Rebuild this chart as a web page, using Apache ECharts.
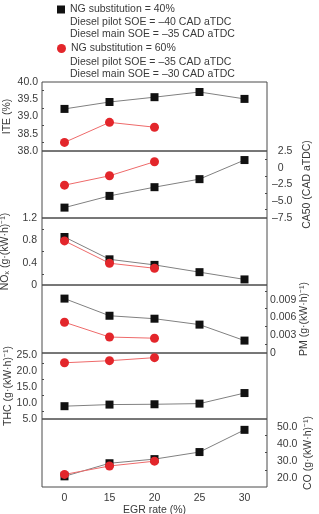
<!DOCTYPE html>
<html>
<head>
<meta charset="utf-8">
<style>
  html, body { margin: 0; padding: 0; background: #fff; }
  #main { width: 319px; height: 514px; }
</style>
<script src="https://cdn.jsdelivr.net/npm/echarts@6.0.0/dist/echarts.min.js"></script>
</head>
<body>
<div id="main"></div>
<script>
const egrRates = ['0', '15', '20', '25', '30'];

const iteNg40 = [39.22, 39.42, 39.56, 39.71, 39.51];
const iteNg60 = [38.25, 38.83, 38.69];
const ca50Ng40 = [-5.95, -4.2, -2.9, -1.7, 1.15];
const ca50Ng60 = [-2.6, -1.2, 0.9];
const noxNg40 = [0.86, 0.46, 0.36, 0.23, 0.10];
const noxNg60 = [0.79, 0.39, 0.30];
const pmNg40 = [0.0092, 0.0063, 0.0058, 0.0048, 0.0021];
const pmNg60 = [0.0052, 0.0027, 0.0025];
const thcNg40 = [9.0, 9.5, 9.6, 9.8, 13.1];
const thcNg60 = [22.55, 23.2, 24.15];
const coNg40 = [21.2, 28.8, 31.2, 35.3, 48.2];
const coNg60 = [22.3, 27.2, 30.0];

const ng40Name = 'NG substitution = 40%';
const ng60Name = 'NG substitution = 60%';
const ng40Lines = ['Diesel pilot SOE = \u201340 CAD aTDC', 'Diesel main SOE = \u201335 CAD aTDC'];
const ng60Lines = ['Diesel pilot SOE = \u201335 CAD aTDC', 'Diesel main SOE = \u201330 CAD aTDC'];

const FONT = 'Liberation Sans, Arial, sans-serif';
const TXT = '#3a3a3a';
const FRAME = '#4a4a4a';

// panel layout, top to bottom
const panels = [
  { name: 'ITE (%)', side: 'left', min: 38, max: 40, interval: 0.5, dec: 1, a: iteNg40, b: iteNg60, top: 82, height: 69, gap: 29.5, margin: 4 },
  { name: 'CA50 (CAD aTDC)', side: 'right', min: -7.5, max: 2.5, interval: 2.5, dec: 1, pad: true, a: ca50Ng40, b: ca50Ng60, top: 151, height: 67, gap: 35, margin: 5 },
  { name: 'NO\u2093 (g\u00b7(kW\u00b7h)\u207b\u00b9)', side: 'left', min: 0, max: 1.2, interval: 0.4, dec: 1, a: noxNg40, b: noxNg60, top: 218, height: 67, gap: 31, margin: 5 },
  { name: 'PM (g\u00b7(kW\u00b7h)\u207b\u00b9)', side: 'right', min: 0, max: 0.0115, interval: 0.003, dec: 3, hideMax: true, a: pmNg40, b: pmNg60, top: 285, height: 68, gap: 32, margin: 3 },
  { name: 'THC (g\u00b7(kW\u00b7h)\u207b\u00b9)', side: 'left', min: 5, max: 25.6, interval: 5, dec: 1, hideMax: true, a: thcNg40, b: thcNg60, top: 353, height: 66, gap: 28.5, margin: 5 },
  { name: 'CO (g\u00b7(kW\u00b7h)\u207b\u00b9)', side: 'right', min: 15, max: 54.5, splitNumber: 4, dec: 1, hideMax: true, hideMin: true, a: coNg40, b: coNg60, top: 419, height: 68, gap: 36, margin: 10 }
];

function fmt(dec, pad) {
  return function (v) {
    if (Math.abs(v) < 1e-9) return (pad ? '\u2007' : '') + '0';
    const s = Math.abs(v).toFixed(dec);
    return v < 0 ? '\u2013' + s : (pad ? '\u2007' : '') + s;
  };
}

const grids = [];
const xAxes = [];
const yAxes = [];
const series = [];

panels.forEach(function (p, i) {
  grids.push({
    left: 42, width: 225, top: p.top, height: p.height,
    outerBoundsMode: 'none', containLabel: false,
    show: true, borderColor: FRAME, borderWidth: 1, backgroundColor: 'transparent'
  });
  const last = i === panels.length - 1;
  xAxes.push({
    type: 'category', gridIndex: i, data: egrRates, boundaryGap: true, position: 'bottom',
    axisLine: { show: false },
    axisTick: { inside: true, alignWithLabel: true, length: 4, interval: 0, lineStyle: { color: FRAME } },
    axisLabel: { show: last, margin: 6, color: TXT, fontFamily: FONT, fontSize: 10.5 },
    name: last ? 'EGR rate (%)' : '',
    nameLocation: 'middle', nameGap: 18, nameMoveOverlap: false,
    nameTextStyle: { color: TXT, fontFamily: FONT, fontSize: 10.5 }
  });
  // minor ticks between categories
  xAxes.push({
    type: 'category', gridIndex: i, data: egrRates, boundaryGap: true, position: 'bottom',
    axisLine: { show: false },
    axisTick: { inside: true, length: 2, interval: 0, lineStyle: { color: FRAME } },
    axisLabel: { show: false }
  });
  const y = {
    type: 'value', gridIndex: i, position: p.side,
    min: p.min, max: p.max,
    axisLine: { show: false },
    splitLine: { show: false },
    axisTick: { inside: true, length: 4, lineStyle: { color: FRAME } },
    minorTick: { show: true, splitNumber: 2, length: 2, lineStyle: { color: FRAME } },
    axisLabel: {
      margin: p.margin, color: TXT, fontFamily: FONT, fontSize: 10.5,
      formatter: fmt(p.dec, p.pad),
      showMaxLabel: p.hideMax ? false : true,
      showMinLabel: p.hideMin ? false : true
    },
    name: p.name, nameLocation: 'middle', nameRotate: 90, nameGap: p.gap,
    nameMoveOverlap: false,
    nameTextStyle: { color: TXT, fontFamily: FONT, fontSize: 10.5 }
  };
  if (p.interval) y.interval = p.interval;
  if (p.splitNumber) y.splitNumber = p.splitNumber;
  yAxes.push(y);

  series.push({
    name: ng40Name, type: 'line', xAxisIndex: i * 2, yAxisIndex: i,
    data: p.a, symbol: 'rect', symbolSize: 8,
    itemStyle: { color: '#111' },
    lineStyle: { color: '#808080', width: 1 },
    animation: false
  });
  series.push({
    name: ng60Name, type: 'line', xAxisIndex: i * 2, yAxisIndex: i,
    data: p.b, symbol: 'circle', symbolSize: 9,
    itemStyle: { color: '#e3262b' },
    lineStyle: { color: '#ee6a6a', width: 1 },
    animation: false
  });
});

const legendText = { color: TXT, fontFamily: FONT, fontSize: 10.5 };

function noteLines(lines, y0, step) {
  return lines.map(function (t, k) {
    return {
      type: 'text', left: 70, top: y0 + k * step,
      style: { text: t, fill: TXT, font: '10.5px ' + FONT }
    };
  });
}

const chart = echarts.init(document.getElementById('main'));
chart.setOption({
  animation: false,
  legend: [
    { data: [ng40Name], left: 57, top: 4, padding: 0, orient: 'vertical', icon: 'rect', itemWidth: 8, itemHeight: 8, itemGap: 5, textStyle: legendText, selectedMode: false },
    { data: [ng60Name], left: 57, top: 43, padding: 0, orient: 'vertical', icon: 'circle', itemWidth: 9, itemHeight: 9, itemGap: 5, textStyle: legendText, selectedMode: false }
  ],
  graphic: noteLines(ng40Lines, 17, 12).concat(noteLines(ng60Lines, 57, 11.5)),
  grid: grids,
  xAxis: xAxes,
  yAxis: yAxes,
  series: series
});
</script>
</body>
</html>
